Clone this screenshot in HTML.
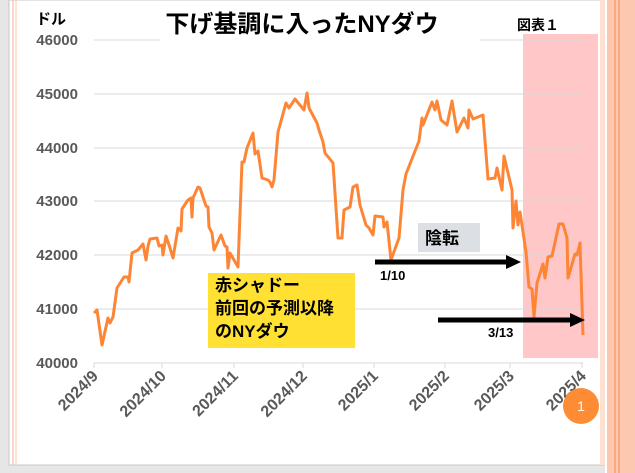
<!DOCTYPE html>
<html><head><meta charset="utf-8"><style>
body{margin:0;width:635px;height:473px;overflow:hidden;background:#e6e6e6;font-family:"Liberation Sans","Noto Sans CJK JP",sans-serif;}
</style></head><body>
<svg width="635" height="473" xmlns="http://www.w3.org/2000/svg" style="position:absolute;left:0;top:0">
<rect x="9" y="0" width="596" height="465" fill="#fff" stroke="#c8c8c8"/>
<line x1="13" y1="0" x2="13" y2="465" stroke="#f9b08a" stroke-width="1"/>
<line x1="16" y1="0" x2="16" y2="465" stroke="#f9c8b0" stroke-width="1"/>
<rect x="600" y="0" width="5" height="465" fill="#fde0d0"/>
<rect x="605" y="0" width="30" height="473" fill="#fcc9b0"/>
<line x1="606" y1="0" x2="606" y2="473" stroke="#fff" stroke-width="2"/>
<line x1="615" y1="0" x2="615" y2="473" stroke="#f48a50"/>
<line x1="619" y1="0" x2="619" y2="473" stroke="#f48a50"/>
<rect x="523" y="34" width="75" height="324" fill="#ffc7c7"/>
<g stroke="#d9d9d9" stroke-width="1">
<line x1="94" y1="40" x2="583" y2="40"/><line x1="94" y1="94" x2="583" y2="94"/>
<line x1="94" y1="148" x2="583" y2="148"/><line x1="94" y1="201" x2="583" y2="201"/>
<line x1="94" y1="255" x2="583" y2="255"/><line x1="94" y1="309" x2="583" y2="309"/>
<line x1="94" y1="363" x2="583" y2="363"/>
<line x1="94" y1="363" x2="94" y2="368"/><line x1="162" y1="363" x2="162" y2="368"/>
<line x1="234" y1="363" x2="234" y2="368"/><line x1="303" y1="363" x2="303" y2="368"/>
<line x1="374" y1="363" x2="374" y2="368"/><line x1="445" y1="363" x2="445" y2="368"/>
<line x1="510" y1="363" x2="510" y2="368"/><line x1="582" y1="363" x2="582" y2="368"/>
</g>
<rect x="160" y="30" width="320" height="16" fill="#fff"/>
<g font-size="15" font-weight="bold" fill="#595959" text-anchor="end">
<text x="78" y="45">46000</text><text x="78" y="99">45000</text><text x="78" y="153">44000</text>
<text x="78" y="206">43000</text><text x="78" y="260">42000</text><text x="78" y="314">41000</text>
<text x="78" y="368">40000</text>
</g>
<g font-size="16" font-weight="bold" fill="#595959" text-anchor="end">
<text transform="translate(99,377) rotate(-45)">2024/9</text>
<text transform="translate(167,377) rotate(-45)">2024/10</text>
<text transform="translate(239,377) rotate(-45)">2024/11</text>
<text transform="translate(308,377) rotate(-45)">2024/12</text>
<text transform="translate(379,377) rotate(-45)">2025/1</text>
<text transform="translate(450,377) rotate(-45)">2025/2</text>
<text transform="translate(515,377) rotate(-45)">2025/3</text>
<text transform="translate(587,377) rotate(-45)">2025/4</text>
</g>
<polyline fill="none" stroke="#fd8636" stroke-width="3" stroke-linejoin="round" points="94,313 97,310 102,345 108,318 110,323 113,317 117,288 124,277 128,277 129,282 132,253 138,250 143,244 146,260 148,246 150,239 157,238 159,246 162,245 163,255 166,236 170,248 173,258 178,228 181,231 182,209 188,200 191,198 192,217 193,198 198,187 200,188 206,206 208,207 209,227 212,233 214,250 221,235 225,246 227,247 228,268 230,253 238,267 242,162 244,162 247,148 253,133 255,154 258,151 262,178 268,180 270,182 272,187 274,180 278,132 286,103 289,108 295,99 304,110 307,93 309,108 317,123 319,130 323,142 325,153 333,163 338,238 342,238 344,210 350,207 353,187 357,185 360,205 366,225 369,228 373,235 375,216 383,217 384,227 387,222 391,260 399,238 403,190 406,174 419,141 422,118 423,125 432,102 435,110 437,101 441,120 447,125 452,101 457,132 464,118 468,128 469,110 473,119 483,115 488,179 495,178 497,168 502,190 504,156 512,190 513,228 516,201 518,225 520,212 526,252 529,287 532,289 534,317 537,283 543,264 545,278 548,257 552,256 559,224 563,224 567,238 568,278 575,254 577,255 580,243 583,335"/>
<text x="302" y="32" font-size="24" font-weight="bold" text-anchor="middle" fill="#000">下げ基調に入ったNYダウ</text>
<text x="36" y="24" font-size="15" font-weight="bold" fill="#000">ドル</text>
<text x="517" y="30" font-size="14" font-weight="bold" fill="#000">図表１</text>
<rect x="208" y="273" width="147" height="75" fill="#ffe033"/>
<g font-size="17" font-weight="bold" fill="#000">
<text x="215" y="291">赤シャドー</text><text x="215" y="314">前回の予測以降</text><text x="215" y="337">のNYダウ</text>
</g>
<rect x="418" y="223" width="62" height="29" fill="#dcdfe3"/>
<text x="425" y="244" font-size="17" font-weight="bold" fill="#000">陰転</text>
<line x1="375" y1="262" x2="508" y2="262" stroke="#000" stroke-width="5"/>
<polygon points="506,255 521,262 506,269" fill="#000"/>
<line x1="438" y1="320" x2="572" y2="320" stroke="#000" stroke-width="5"/>
<polygon points="570,313 585,320 570,327" fill="#000"/>
<text x="380" y="280" font-size="13" font-weight="bold" fill="#000">1/10</text>
<text x="488" y="337" font-size="13" font-weight="bold" fill="#000">3/13</text>
<ellipse cx="581" cy="406" rx="18" ry="18" fill="#fd8c35"/>
<text x="581" y="411" font-size="14" fill="#fff" text-anchor="middle">1</text>
</svg>
</body></html>
